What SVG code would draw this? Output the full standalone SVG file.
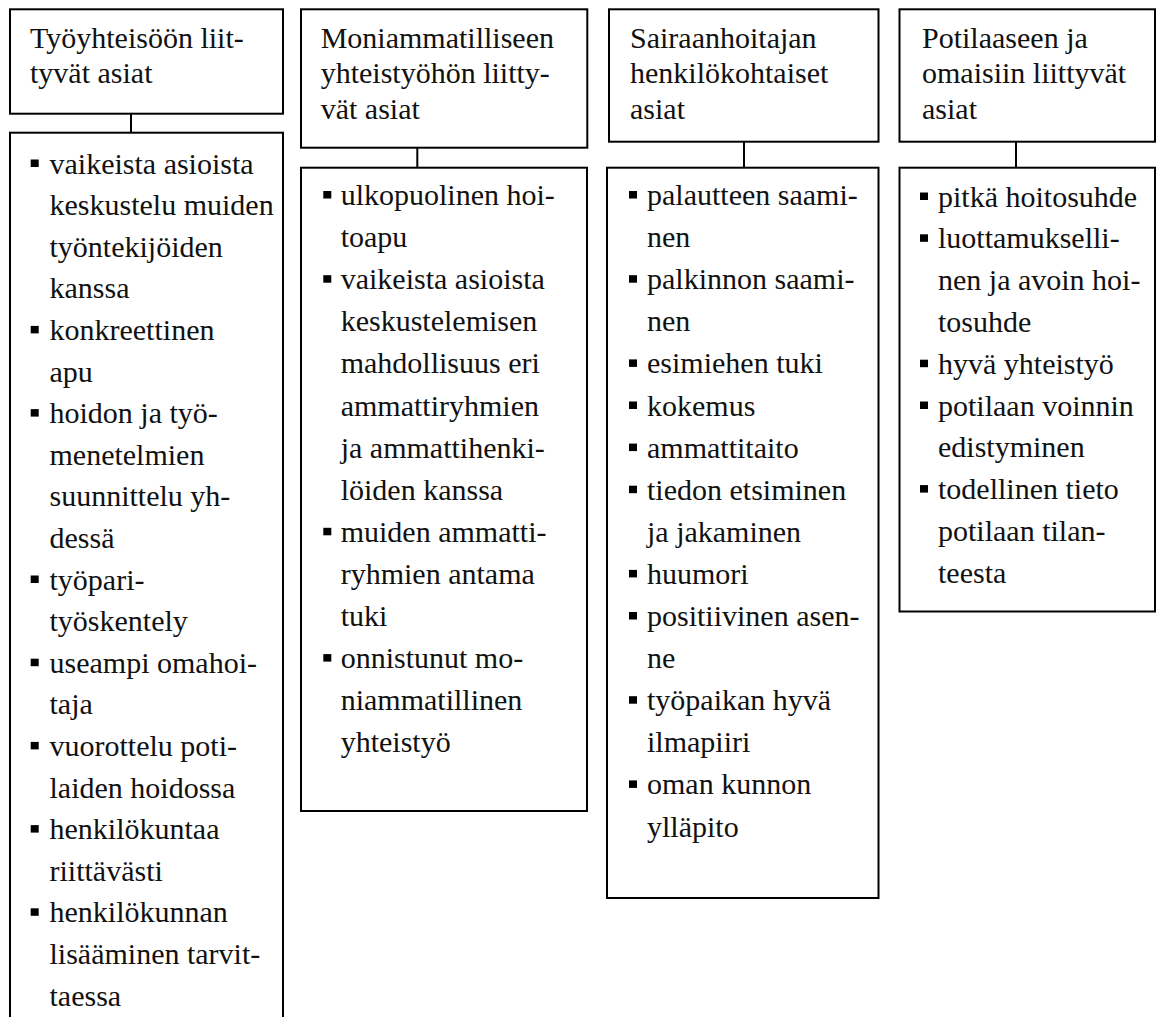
<svg xmlns="http://www.w3.org/2000/svg" xmlns:xlink="http://www.w3.org/1999/xlink" width="1159" height="1017" viewBox="0 0 1159 1017">
<defs>
<style>
.box{fill:#fff;stroke:#000;stroke-width:2}
.conn{stroke:#000;stroke-width:2;fill:none}
.t{font-family:'Liberation Serif','DejaVu Serif','Noto Serif',serif;font-size:30px;fill:#111}
.b{fill:#000}
</style>
<rect id="bul" class="b" x="0" y="-14" width="8" height="7.5"/>
</defs>
<rect width="1159" height="1017" fill="#fff"/>

<g id="connectors">
<line class="conn" x1="131" y1="113.7" x2="131" y2="132.7"/>
<line class="conn" x1="417.3" y1="147.7" x2="417.3" y2="167.7"/>
<line class="conn" x1="744" y1="141.7" x2="744" y2="167.7"/>
<line class="conn" x1="1016" y1="141.7" x2="1016" y2="167.7"/>
</g>

<g id="h1">
<rect class="box" x="10" y="9.3" width="273" height="104.4"/>
<text class="t"><tspan x="30" y="47.7">Työyhteisöön liit-</tspan><tspan x="30" y="83.3">tyvät asiat</tspan></text>
</g>
<g id="h2">
<rect class="box" x="301" y="9.3" width="286.3" height="138.4"/>
<text class="t"><tspan x="320.7" y="47.7">Moniammatilliseen</tspan><tspan x="320.7" y="83.3">yhteistyöhön liitty-</tspan><tspan x="320.7" y="118.6">vät asiat</tspan></text>
</g>
<g id="h3">
<rect class="box" x="609" y="9.3" width="269.5" height="132.4"/>
<text class="t"><tspan x="630" y="47.7">Sairaanhoitajan</tspan><tspan x="630" y="83.3">henkilökohtaiset</tspan><tspan x="630" y="118.6">asiat</tspan></text>
</g>
<g id="h4">
<rect class="box" x="899.5" y="9.3" width="255.5" height="132.4"/>
<text class="t"><tspan x="922" y="47.7">Potilaaseen ja</tspan><tspan x="922" y="83.3">omaisiin liittyvät</tspan><tspan x="922" y="118.6">asiat</tspan></text>
</g>

<g id="c1">
<rect class="box" x="10" y="132.7" width="273" height="900"/>
<use xlink:href="#bul" x="30.7" y="173.5"/>
<use xlink:href="#bul" x="30.7" y="339.9"/>
<use xlink:href="#bul" x="30.7" y="423.1"/>
<use xlink:href="#bul" x="30.7" y="589.5"/>
<use xlink:href="#bul" x="30.7" y="672.7"/>
<use xlink:href="#bul" x="30.7" y="755.9"/>
<use xlink:href="#bul" x="30.7" y="839.1"/>
<use xlink:href="#bul" x="30.7" y="922.3"/>
<text class="t">
<tspan x="49.5" y="173.5">vaikeista asioista</tspan>
<tspan x="49.5" y="215.1">keskustelu muiden</tspan>
<tspan x="49.5" y="256.7">työntekijöiden</tspan>
<tspan x="49.5" y="298.3">kanssa</tspan>
<tspan x="49.5" y="339.9">konkreettinen</tspan>
<tspan x="49.5" y="381.5">apu</tspan>
<tspan x="49.5" y="423.1">hoidon ja työ-</tspan>
<tspan x="49.5" y="464.7">menetelmien</tspan>
<tspan x="49.5" y="506.3">suunnittelu yh-</tspan>
<tspan x="49.5" y="547.9">dessä</tspan>
<tspan x="49.5" y="589.5">työpari-</tspan>
<tspan x="49.5" y="631.1">työskentely</tspan>
<tspan x="49.5" y="672.7">useampi omahoi-</tspan>
<tspan x="49.5" y="714.3">taja</tspan>
<tspan x="49.5" y="755.9">vuorottelu poti-</tspan>
<tspan x="49.5" y="797.5">laiden hoidossa</tspan>
<tspan x="49.5" y="839.1">henkilökuntaa</tspan>
<tspan x="49.5" y="880.7">riittävästi</tspan>
<tspan x="49.5" y="922.3">henkilökunnan</tspan>
<tspan x="49.5" y="963.9">lisääminen tarvit-</tspan>
<tspan x="49.5" y="1005.5">taessa</tspan>
</text>
</g>

<g id="c2">
<rect class="box" x="301" y="167.7" width="286" height="643.3"/>
<use xlink:href="#bul" x="323.3" y="205"/>
<use xlink:href="#bul" x="323.3" y="289.2"/>
<use xlink:href="#bul" x="323.3" y="541.8"/>
<use xlink:href="#bul" x="323.3" y="668.1"/>
<text class="t">
<tspan x="340.7" y="205">ulkopuolinen hoi-</tspan>
<tspan x="340.7" y="247.1">toapu</tspan>
<tspan x="340.7" y="289.2">vaikeista asioista</tspan>
<tspan x="340.7" y="331.3">keskustelemisen</tspan>
<tspan x="340.7" y="373.4">mahdollisuus eri</tspan>
<tspan x="340.7" y="415.5">ammattiryhmien</tspan>
<tspan x="340.7" y="457.6">ja ammattihenki-</tspan>
<tspan x="340.7" y="499.7">löiden kanssa</tspan>
<tspan x="340.7" y="541.8">muiden ammatti-</tspan>
<tspan x="340.7" y="583.9">ryhmien antama</tspan>
<tspan x="340.7" y="626">tuki</tspan>
<tspan x="340.7" y="668.1">onnistunut mo-</tspan>
<tspan x="340.7" y="710.2">niammatillinen</tspan>
<tspan x="340.7" y="752.3">yhteistyö</tspan>
</text>
</g>

<g id="c3">
<rect class="box" x="607" y="167.7" width="271.5" height="730.3"/>
<use xlink:href="#bul" x="629" y="205"/>
<use xlink:href="#bul" x="629" y="289.2"/>
<use xlink:href="#bul" x="629" y="373.4"/>
<use xlink:href="#bul" x="629" y="415.5"/>
<use xlink:href="#bul" x="629" y="457.6"/>
<use xlink:href="#bul" x="629" y="499.7"/>
<use xlink:href="#bul" x="629" y="583.9"/>
<use xlink:href="#bul" x="629" y="626"/>
<use xlink:href="#bul" x="629" y="710.2"/>
<use xlink:href="#bul" x="629" y="794.4"/>
<text class="t">
<tspan x="647" y="205">palautteen saami-</tspan>
<tspan x="647" y="247.1">nen</tspan>
<tspan x="647" y="289.2">palkinnon saami-</tspan>
<tspan x="647" y="331.3">nen</tspan>
<tspan x="647" y="373.4">esimiehen tuki</tspan>
<tspan x="647" y="415.5">kokemus</tspan>
<tspan x="647" y="457.6">ammattitaito</tspan>
<tspan x="647" y="499.7">tiedon etsiminen</tspan>
<tspan x="647" y="541.8">ja jakaminen</tspan>
<tspan x="647" y="583.9">huumori</tspan>
<tspan x="647" y="626">positiivinen asen-</tspan>
<tspan x="647" y="668.1">ne</tspan>
<tspan x="647" y="710.2">työpaikan hyvä</tspan>
<tspan x="647" y="752.3">ilmapiiri</tspan>
<tspan x="647" y="794.4">oman kunnon</tspan>
<tspan x="647" y="836.5">ylläpito</tspan>
</text>
</g>

<g id="c4">
<rect class="box" x="899.5" y="167.7" width="255.5" height="443.8"/>
<use xlink:href="#bul" x="920" y="206.5"/>
<use xlink:href="#bul" x="920" y="248.3"/>
<use xlink:href="#bul" x="920" y="373.7"/>
<use xlink:href="#bul" x="920" y="415.5"/>
<use xlink:href="#bul" x="920" y="499.1"/>
<text class="t">
<tspan x="938" y="206.5">pitkä hoitosuhde</tspan>
<tspan x="938" y="248.3">luottamukselli-</tspan>
<tspan x="938" y="290.1">nen ja avoin hoi-</tspan>
<tspan x="938" y="331.9">tosuhde</tspan>
<tspan x="938" y="373.7">hyvä yhteistyö</tspan>
<tspan x="938" y="415.5">potilaan voinnin</tspan>
<tspan x="938" y="457.3">edistyminen</tspan>
<tspan x="938" y="499.1">todellinen tieto</tspan>
<tspan x="938" y="540.9">potilaan tilan-</tspan>
<tspan x="938" y="582.7">teesta</tspan>
</text>
</g>
</svg>
